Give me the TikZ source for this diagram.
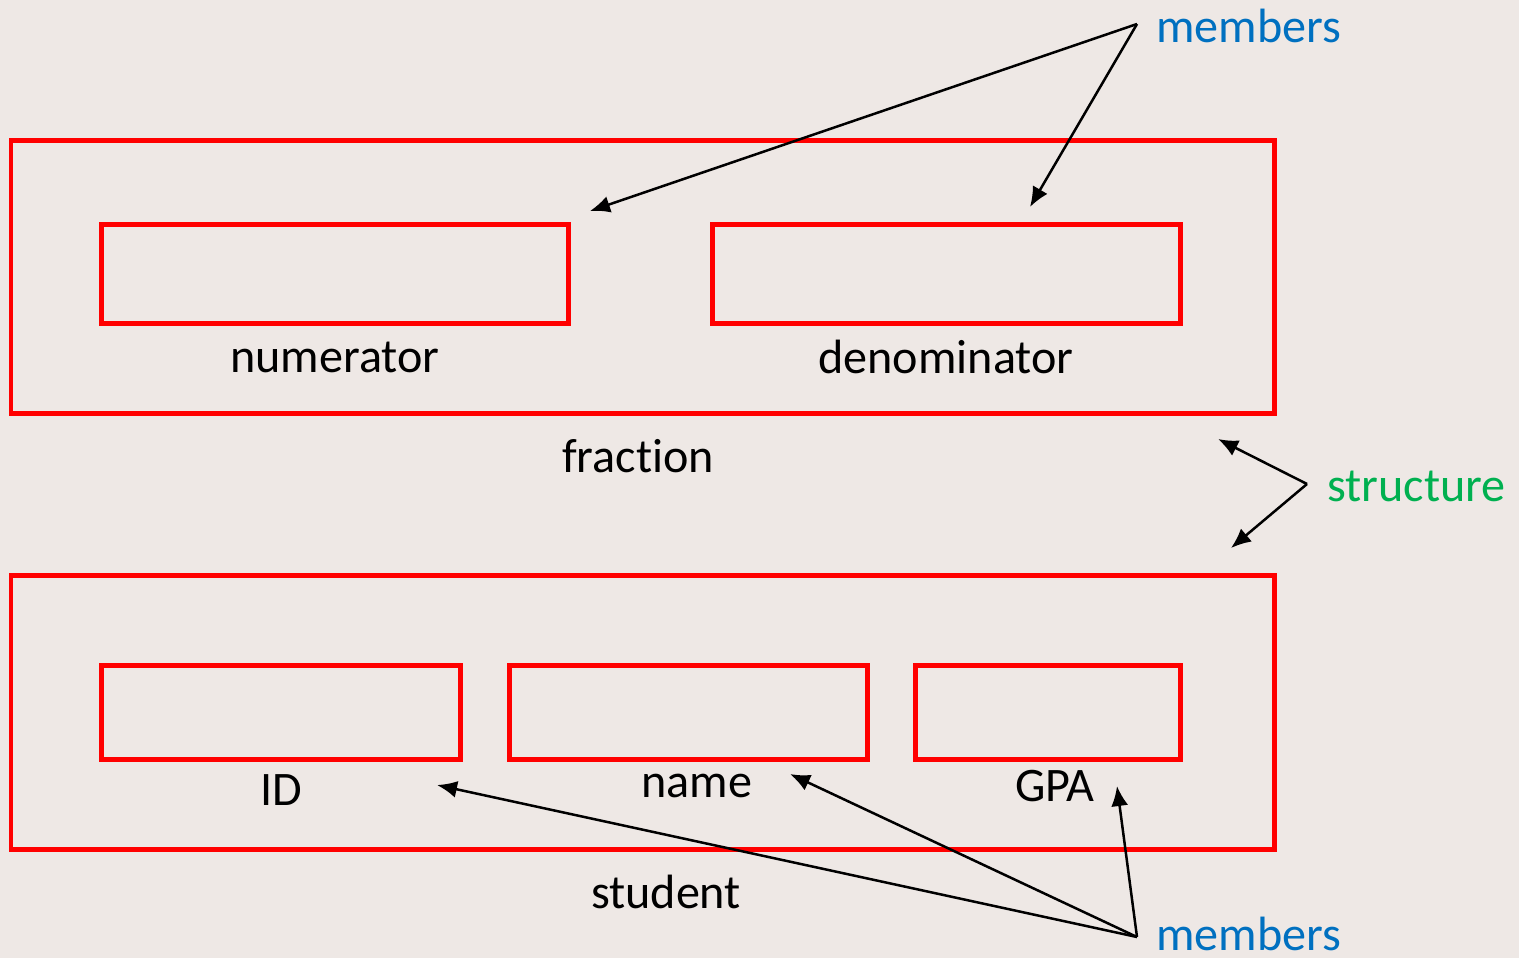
\documentclass[tikz,border=0pt]{standalone}
\usepackage{fontspec}
\setmainfont[Ligatures={NoCommon}]{Carlito}
\usetikzlibrary{arrows.meta}
\definecolor{memblue}{HTML}{0070C0}
\definecolor{strgreen}{HTML}{00B050}
\definecolor{boxred}{HTML}{FF0000}
\definecolor{paper}{HTML}{EEE8E5}
\tikzset{
  redbox/.style={draw=boxred,line width=0.1cm},
  lbl/.style={font=\fontsize{27.4}{31}\selectfont,text=black,inner sep=0pt},
  ptr/.style={line width=0.05cm,-{Latex[length=0.4cm,width=0.34cm]}}
}
\begin{document}
\begin{tikzpicture}[x=0.02cm,y=-0.02cm]
			\fill [paper] (0,0) rectangle (1519,958);
			\useasboundingbox (0,0) rectangle (1519,958);
			% fraction
			\draw [redbox] (11,140) rectangle (1274,413);
			\draw [redbox] (101,224) rectangle (568,323);
			\draw [redbox] (712,224) rectangle (1180,323);
			\node [lbl] (num) at (335,357) {numerator};
			\node [lbl] (den) at (946,357) {denominator};
			\node [lbl] (frac) at (638,456) {fraction};
			% student
			\draw [redbox] (11,575) rectangle (1274,849);
			\draw [redbox] (101,665) rectangle (460,759);
			\draw [redbox] (509,665) rectangle (867,759);
			\draw [redbox] (915,665) rectangle (1180,759);
			\node [lbl] (id) at (281,790) {ID};
			\node [lbl] (name) at (697,786) {name};
			\node [lbl] (gpa) at (1055,786) {GPA};
			\node [lbl] (stud) at (666,892) {student};
			% callouts
			\node [lbl,text=memblue,anchor=west] (memtop) at (1156,26) {members};
			\node [lbl,text=strgreen,anchor=west] (struct) at (1327,486) {structure};
			\node [lbl,text=memblue,anchor=west] (membot) at (1156,934) {members};
			\coordinate (mt) at (1137,24);
			\coordinate (st) at (1307,484);
			\coordinate (mb) at (1137,937);
			\coordinate (tnum) at (590,211);
			\coordinate (tden) at (1030,207);
			\coordinate (tfrac) at (1218,439);
			\coordinate (tstud) at (1231,548);
			\coordinate (tid) at (437,785);
			\coordinate (tname) at (790,774);
			\coordinate (tgpa) at (1117,786);
			\draw [ptr] (mt) -- (tnum);
			\draw [ptr] (mt) -- (tden);
			\draw [ptr] (st) -- (tfrac);
			\draw [ptr] (st) -- (tstud);
			\draw [ptr] (mb) -- (tid);
			\draw [ptr] (mb) -- (tname);
			\draw [ptr] (mb) -- (tgpa);
\end{tikzpicture}
\end{document}
